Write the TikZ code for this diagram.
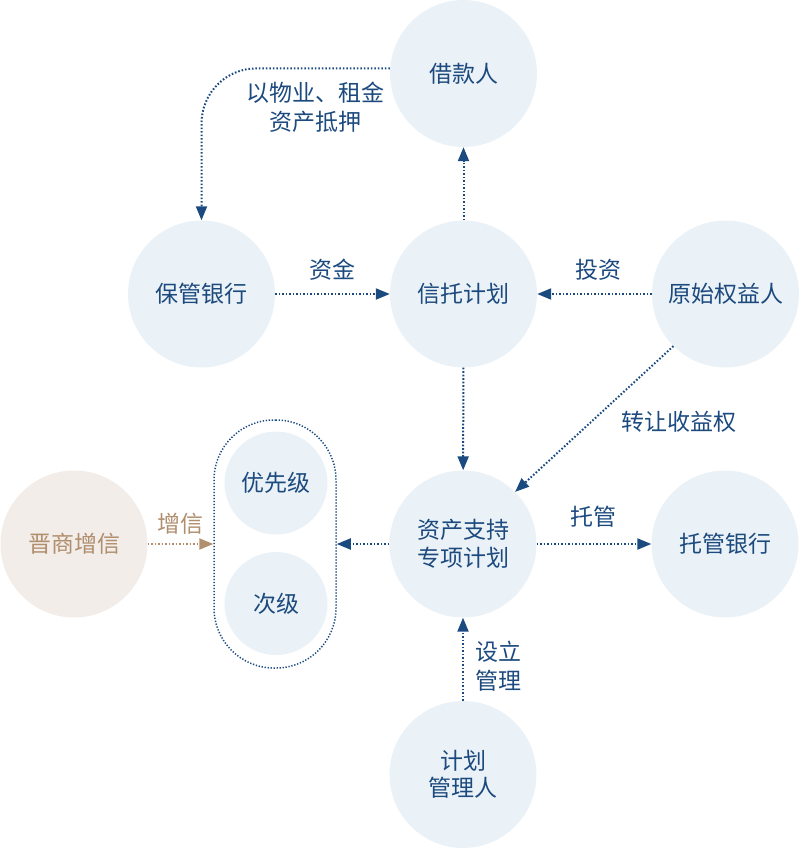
\documentclass[tikz,border=0pt]{standalone}
\usepackage{fontspec}
\setmainfont{Noto Sans CJK SC}
\usetikzlibrary{arrows.meta}
\definecolor{txtblue}{HTML}{1C4A7E}
\definecolor{lineblue}{HTML}{1A4A80}
\definecolor{cfill}{HTML}{EBF2F7}
\definecolor{tanfill}{HTML}{F2EDE8}
\definecolor{tantxt}{HTML}{B08E6E}
\tikzset{
  circ/.style={circle, fill=cfill, draw=none, minimum size=147pt, inner sep=0pt,
    text=txtblue, align=center, font=\fontsize{23}{27.5}\selectfont},
  smallcirc/.style={circ, minimum size=103pt},
  lbl/.style={text=txtblue, align=center, font=\fontsize{23}{29}\selectfont, inner sep=0pt},
  arr/.style={draw=lineblue, line width=2pt, dash pattern=on 1.6pt off 1.9pt,
    -{Triangle[length=14pt,width=11pt]}},
  tanarr/.style={arr, draw=tantxt, -{Triangle[length=14pt,width=11pt,fill=tantxt]}},
}
\begin{document}
\begin{tikzpicture}[x=1pt,y=-1pt]
\useasboundingbox (0,0) rectangle (800,848);
% circles
\node[circ] (jkr) at (463.5,73.5) {借款人};
\node[circ] (bgyh) at (201.5,294) {保管银行};
\node[circ] (xtjh) at (463.5,294) {信托计划};
\node[circ] (ysqy) at (725.5,294) {原始权益人};
\node[circ] (zczc) at (463,544) {资产支持\\专项计划};
\node[circ] (tgyh) at (725,544) {托管银行};
\node[circ] (jhgl) at (463,774.5) {计划\\管理人};
\node[circ, fill=tanfill, text=tantxt] (jssx) at (74,544) {晋商增信};
% stadium
\node[draw=lineblue, line width=1.5pt, dash pattern=on 1.3pt off 1.7pt,
      rounded corners=60pt, minimum width=122pt, minimum height=248pt,
      inner sep=0pt] (stad) at (275,544) {};
\node[smallcirc] (yxj) at (276,483) {优先级};
\node[smallcirc] (cj) at (276,603.5) {次级};
% connectors
\draw[arr] (bgyh) -- (xtjh);
\draw[arr] (xtjh) -- (jkr);
\draw[arr] (ysqy) -- (xtjh);
\draw[arr] (xtjh) -- (zczc);
\draw[arr] (ysqy.225) -- (zczc.45);
\draw[arr] (zczc) -- (tgyh);
\draw[arr] (jhgl) -- (zczc);
\draw[arr] (zczc) -- (stad.east);
\draw[tanarr] (jssx) -- (stad.west);
\draw[arr, rounded corners=55pt] (jkr.176) -| (bgyh.north);
% labels
\node[lbl] (l1) at (315,107) {以物业、租金\\资产抵押};
\node[lbl] (l2) at (332,270) {资金};
\node[lbl] (l3) at (598,270) {投资};
\node[lbl] (l4) at (679,422) {转让收益权};
\node[lbl] (l5) at (593,517) {托管};
\node[lbl] (l6) at (498,666) {设立\\管理};
\node[lbl, text=tantxt] (l7) at (180,524) {增信};
\end{tikzpicture}
\end{document}
